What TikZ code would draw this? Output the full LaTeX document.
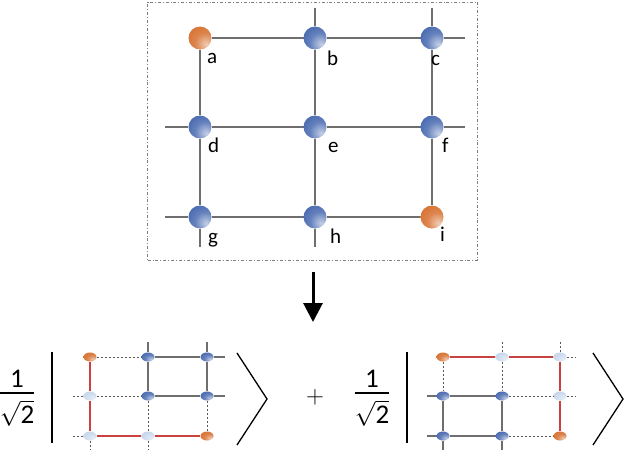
\documentclass[tikz,border=0pt]{standalone}
\usepackage{fontspec}
\setmainfont{Carlito}
\usepackage{tikz}
\usetikzlibrary{arrows.meta,shapes.geometric}
\definecolor{spinblue}{HTML}{3F62AC}
\definecolor{spinorange}{HTML}{D66E2C}
\definecolor{spinpale}{HTML}{CCDAEE}
\definecolor{bondgray}{HTML}{6E6E6E}
\definecolor{bondred}{HTML}{C9423F}
\definecolor{framegray}{HTML}{808080}
\pgfdeclareradialshading{blueball}{\pgfpoint{14bp}{-14bp}}{color(0bp)=(spinblue!30!white); color(22bp)=(spinblue!80!white); color(45bp)=(spinblue); color(62bp)=(spinblue!75!black); color(100bp)=(spinblue!75!black)}
\pgfdeclareradialshading{orangeball}{\pgfpoint{14bp}{-14bp}}{color(0bp)=(spinorange!35!white); color(22bp)=(spinorange!85!white); color(45bp)=(spinorange); color(62bp)=(spinorange!80!black); color(100bp)=(spinorange!80!black)}
\pgfdeclareradialshading{paleball}{\pgfpoint{14bp}{-14bp}}{color(0bp)=(spinpale!50!white); color(30bp)=(spinpale); color(62bp)=(spinpale!92!black); color(100bp)=(spinpale!92!black)}
\tikzset{
  site/.style={circle,inner sep=0pt,minimum size=23pt},
  bluesite/.style={site,shading=blueball},
  orangesite/.style={site,shading=orangeball},
  dot/.style={ellipse,inner sep=0pt,minimum width=13pt,minimum height=9pt},
  bluedot/.style={dot,shading=blueball},
  orangedot/.style={dot,shading=orangeball},
  paledot/.style={dot,shading=paleball},
  bond/.style={draw=bondgray,line width=1.2pt},
  redbond/.style={draw=bondred,line width=1.8pt},
  cut/.style={draw=bondgray!80!black,line width=1pt,dash pattern=on 2.2pt off 1.8pt},
  lbl/.style={inner sep=0pt,anchor=base west,font=\fontsize{21}{24}\selectfont},
  fracpart/.style={inner sep=0pt,anchor=base,font=\fontsize{27}{30}\selectfont},
  ket/.style={line width=1.3pt}
}
\begin{document}
\begin{tikzpicture}[x=1pt,y=-1pt]
  \useasboundingbox (0,0) rectangle (624,450);
  % lattice before
  \node[draw=framegray,line width=0.8pt,dash dot,minimum width=330pt,minimum height=258pt,inner sep=0pt] (frame) at (312.5,131) {};
  \node[orangesite] (a) at (200,38) {};
  \node[bluesite] (b) at (315,38) {};
  \node[bluesite] (c) at (432,38) {};
  \node[bluesite] (d) at (200,127) {};
  \node[bluesite] (e) at (315,127) {};
  \node[bluesite] (f) at (432,127) {};
  \node[bluesite] (g) at (200,217) {};
  \node[bluesite] (h) at (315,217) {};
  \node[orangesite] (i) at (432,217) {};
  \draw[bond] (a) -- (b) -- (c) -- ++(33,0);
  \draw[bond] (d) -- ++(-35,0);
  \draw[bond] (d) -- (e) -- (f) -- ++(33,0);
  \draw[bond] (g) -- ++(-35,0);
  \draw[bond] (g) -- (h) -- (i);
  \draw[bond] (a) -- (d) -- (g) -- ++(0,30);
  \draw[bond] (b) -- ++(0,-30);
  \draw[bond] (b) -- (e) -- (h) -- ++(0,30);
  \draw[bond] (c) -- ++(0,-30);
  \draw[bond] (c) -- (f) -- (i);
  \node[lbl] (la) at (207,63) {a};
  \node[lbl] (lb) at (327,65) {b};
  \node[lbl] (lc) at (431,65) {c};
  \node[lbl] (ld) at (208,152) {d};
  \node[lbl] (le) at (328,152) {e};
  \node[lbl] (lf) at (442,152) {f};
  \node[lbl] (lg) at (208,243) {g};
  \node[lbl] (lh) at (330,243) {h};
  \node[lbl] (li) at (440,241) {i};
  % arrow
  \coordinate (arrtop) at (313,272);
  \coordinate (arrbot) at (313,322);
  \draw[line width=3pt,-{Triangle[width=19pt,length=19pt]}] (arrtop) -- (arrbot);
  % first term
  \node[fracpart] (num1) at (17,387) {1};
  \node[fracpart] (den1) at (17,423) {$\sqrt{\mbox{2}}$};
  \draw[line width=1.6pt] (den1.west |- 0,393) -- (den1.east |- 0,393);
  \draw[ket] (52,352) -- (52,443);
  \draw[ket] (237,353) -- (267,399) -- (237,445);
  \node[orangedot] (a1) at (90,357) {};
  \node[bluedot] (b1) at (148,357) {};
  \node[bluedot] (c1) at (207,357) {};
  \node[paledot] (d1) at (90,396) {};
  \node[bluedot] (e1) at (148,396) {};
  \node[bluedot] (f1) at (207,396) {};
  \node[paledot] (g1) at (90,436) {};
  \node[paledot] (h1) at (148,436) {};
  \node[orangedot] (i1) at (207,436) {};
  \draw[cut] (a1) -- (b1);
  \draw[bond] (b1) -- (c1) -- ++(18,0);
  \draw[cut] (d1) -- ++(-18,0);
  \draw[cut] (d1) -- (e1);
  \draw[bond] (e1) -- (f1) -- ++(18,0);
  \draw[cut] (g1) -- ++(-18,0);
  \draw[redbond] (g1) -- (h1) -- (i1);
  \draw[redbond] (a1) -- (d1) -- (g1);
  \draw[cut] (g1) -- ++(0,14);
  \draw[bond] (b1) -- ++(0,-15);
  \draw[bond] (b1) -- (e1);
  \draw[cut] (e1) -- (h1) -- ++(0,14);
  \draw[bond] (c1) -- ++(0,-15);
  \draw[bond] (c1) -- (f1);
  \draw[cut] (f1) -- (i1);
  % second term
  \node[inner sep=0pt,font=\fontsize{24}{27}\selectfont] (plus) at (315,397) {$+$};
  \node[fracpart] (num2) at (372,387) {1};
  \node[fracpart] (den2) at (372,423) {$\sqrt{\mbox{2}}$};
  \draw[line width=1.6pt] (den2.west |- 0,393) -- (den2.east |- 0,393);
  \draw[ket] (407,352) -- (407,443);
  \draw[ket] (593,353) -- (623,399) -- (593,445);
  \node[orangedot] (a2) at (443,357) {};
  \node[paledot] (b2) at (502,357) {};
  \node[paledot] (c2) at (560,357) {};
  \node[bluedot] (d2) at (443,396) {};
  \node[bluedot] (e2) at (502,396) {};
  \node[paledot] (f2) at (560,396) {};
  \node[bluedot] (g2) at (443,436) {};
  \node[bluedot] (h2) at (502,436) {};
  \node[orangedot] (i2) at (560,436) {};
  \draw[redbond] (a2) -- (b2) -- (c2);
  \draw[cut] (c2) -- ++(15,0);
  \draw[bond] (d2) -- ++(-16,0);
  \draw[bond] (d2) -- (e2);
  \draw[cut] (e2) -- (f2) -- ++(15,0);
  \draw[bond] (g2) -- ++(-16,0);
  \draw[bond] (g2) -- (h2);
  \draw[cut] (h2) -- (i2);
  \draw[cut] (a2) -- (d2);
  \draw[bond] (d2) -- (g2) -- ++(0,14);
  \draw[cut] (b2) -- ++(0,-15);
  \draw[cut] (b2) -- (e2);
  \draw[bond] (e2) -- (h2) -- ++(0,14);
  \draw[cut] (c2) -- ++(0,-15);
  \draw[redbond] (c2) -- (f2) -- (i2);
\end{tikzpicture}
\end{document}
